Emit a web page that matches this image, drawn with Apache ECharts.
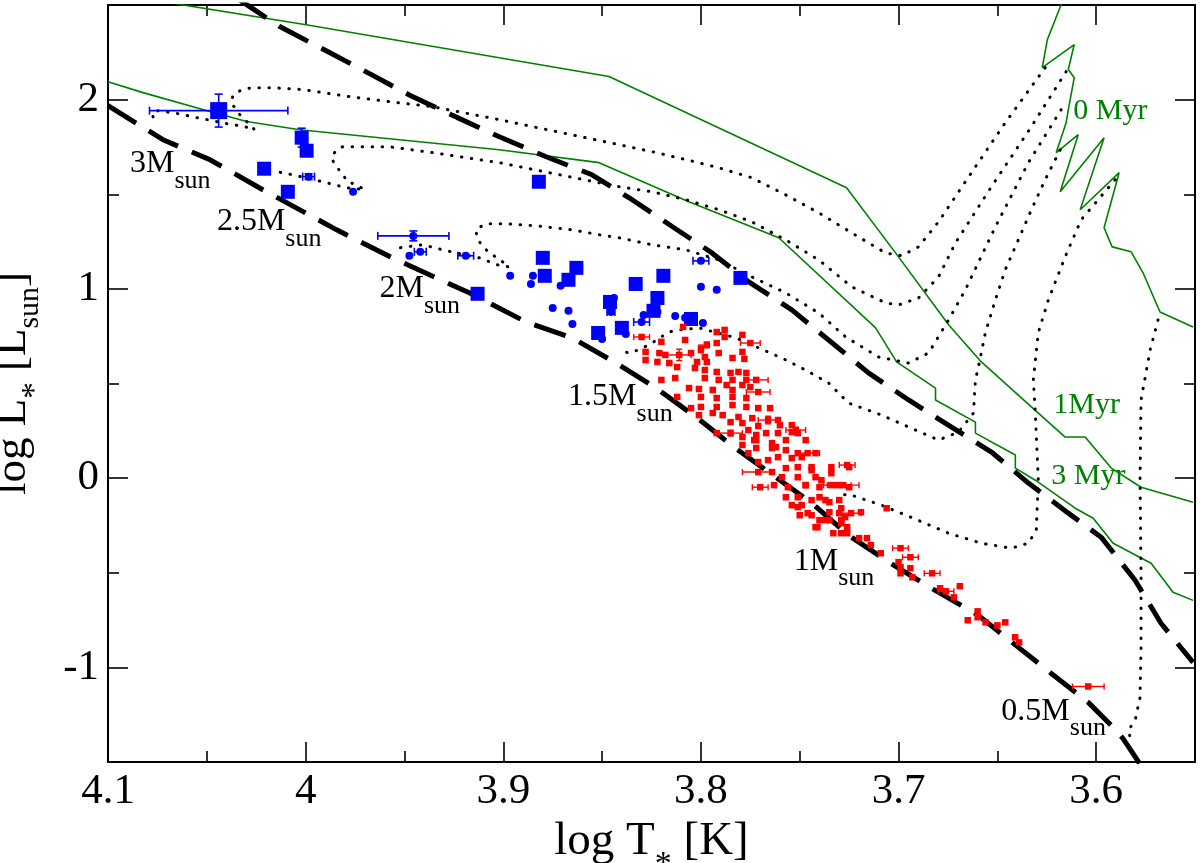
<!DOCTYPE html>
<html><head><meta charset="utf-8">
<script src="https://cdn.jsdelivr.net/npm/echarts@6/dist/echarts.min.js"></script>
<style>html,body{margin:0;padding:0;background:#fff}#c{width:1200px;height:863px}</style>
</head><body><div id="c"></div>
<script>
// ---------- axis ticks ----------
const xMajor = [3.6, 3.7, 3.8, 3.9, 4.0, 4.1];
const xMinor = [3.65, 3.75, 3.85, 3.95, 4.05];
const yMajor = [-1, 0, 1, 2];
const yMinor = [-0.5, 0.5, 1.5];

// ---------- isochrones (green) ----------
const iso1Myr = [[4.0788,2.529],[4.0636,2.503],[4.0005,2.397],[3.8465,2.122],[3.7263,1.534],[3.7,1.169],[3.6747,0.810],[3.6581,0.614],[3.6328,0.376],[3.6157,0.217],[3.6056,0.217],[3.5924,0.053],[3.5773,-0.048],[3.551,-0.127]];
const iso3Myr = [[4.1,2.095],[4.0823,2.037],[4.0485,1.937],[4.0298,1.884],[4.0030,1.841],[3.9020,1.735],[3.8515,1.667],[3.8061,1.460],[3.7606,1.270],[3.7116,0.794],[3.7010,0.614],[3.6813,0.476],[3.6813,0.413],[3.6611,0.296],[3.6611,0.238],[3.6409,0.122],[3.6409,0.053],[3.6308,-0.011],[3.6106,-0.159],[3.6015,-0.212],[3.5914,-0.344],[3.5722,-0.450],[3.5611,-0.603],[3.551,-0.646]];
const iso10Myr = [[3.6167,2.545],[3.6177,2.503],[3.6247,2.317],[3.6273,2.169],[3.6111,2.291],[3.6141,2.159],[3.6111,2.116],[3.6141,1.947],[3.6152,1.878],[3.6202,1.720],[3.6091,1.815],[3.6182,1.513],[3.5960,1.799],[3.6081,1.418],[3.5884,1.614],[3.5960,1.323],[3.5919,1.222],[3.5823,1.196],[3.5763,1.085],[3.5677,0.878],[3.551,0.799]];

// ---------- ZAMS and birthline (black dashed) ----------
const zams = [[4.1,1.968],[4.0722,1.788],[4.0485,1.683],[4.0217,1.524],[3.9843,1.312],[3.9561,1.164],[3.9172,0.979],[3.8884,0.825],[3.8652,0.741],[3.8439,0.614],[3.8227,0.476],[3.8025,0.323],[3.7833,0.164],[3.7621,0.005],[3.7439,-0.132],[3.7253,-0.302],[3.7040,-0.450],[3.6833,-0.582],[3.6596,-0.725],[3.6419,-0.873],[3.6227,-1.032],[3.6040,-1.185],[3.5914,-1.317],[3.5864,-1.376],[3.5773,-1.519]];
const birthline = [[4.0338,2.529],[4.0247,2.466],[4.0131,2.386],[3.9889,2.254],[3.9667,2.132],[3.9460,2.016],[3.9232,1.905],[3.9020,1.804],[3.8783,1.698],[3.8551,1.603],[3.8348,1.471],[3.8136,1.323],[3.7944,1.190],[3.7758,1.037],[3.7540,0.889],[3.7354,0.730],[3.7152,0.556],[3.6949,0.413],[3.6732,0.270],[3.6530,0.138],[3.6343,-0.026],[3.6141,-0.185],[3.5975,-0.312],[3.5803,-0.540],[3.5672,-0.767],[3.551,-0.974]];

// ---------- evolutionary tracks (black dotted) ----------
const track3 = [[3.6258,2.169],[3.6460,1.878],[3.6662,1.566],[3.6798,1.354],[3.6899,1.222],[3.6985,1.175],[3.7066,1.190],[3.7237,1.296],[3.7404,1.402],[3.7571,1.497],[3.7742,1.587],[3.7909,1.640],[3.8076,1.683],[3.8247,1.725],[3.8414,1.762],[3.9020,1.894],[3.9359,1.963],[3.9576,1.989],[3.9778,2.016],[4.0015,2.053],[4.0167,2.063],[4.0268,2.063],[4.0323,2.053],[4.0369,2.021],[4.0374,1.979],[4.0333,1.921],[4.0258,1.841],[4.0308,1.857],[4.0399,1.873],[4.0551,1.905],[4.0646,1.926],[4.0747,1.942],[4.0778,1.926],[4.0763,1.884]];
const track25 = [[3.6152,2.148],[3.6328,1.857],[3.6530,1.540],[3.6712,1.243],[3.6798,1.063],[3.6899,0.952],[3.7000,0.915],[3.7066,0.926],[3.7237,1.011],[3.7404,1.153],[3.7571,1.259],[3.7742,1.354],[3.7909,1.418],[3.8076,1.471],[3.8247,1.513],[3.8414,1.540],[3.8515,1.561],[3.9020,1.667],[3.9359,1.720],[3.9576,1.751],[3.9712,1.751],[3.9813,1.751],[3.9843,1.735],[3.9869,1.698],[3.9854,1.656],[3.9818,1.614],[3.9788,1.566],[3.9742,1.550],[3.9702,1.524],[3.9793,1.534],[3.9914,1.566],[4.0066,1.603],[4.0146,1.619]];
const track2 = [[3.6177,1.947],[3.6343,1.667],[3.6510,1.328],[3.6662,0.995],[3.6747,0.836],[3.6848,0.661],[3.6949,0.608],[3.7101,0.640],[3.7268,0.746],[3.7404,0.873],[3.7571,0.979],[3.7742,1.063],[3.7909,1.153],[3.8076,1.206],[3.8247,1.233],[3.8414,1.270],[3.8515,1.286],[3.8652,1.312],[3.8833,1.333],[3.8985,1.344],[3.9086,1.344],[3.9136,1.317],[3.9136,1.275],[3.9111,1.233],[3.9071,1.190],[3.9030,1.164],[3.8970,1.116],[3.9030,1.127],[3.9121,1.164],[3.9263,1.196],[3.9409,1.233],[3.9525,1.217]];
const track15 = [[3.6182,1.735],[3.6258,1.577],[3.6328,1.418],[3.6394,1.259],[3.6460,1.101],[3.6510,0.942],[3.6561,0.767],[3.6596,0.587],[3.6611,0.519],[3.6621,0.344],[3.6697,0.243],[3.6798,0.201],[3.6914,0.254],[3.7086,0.333],[3.7253,0.397],[3.7354,0.503],[3.7470,0.571],[3.7591,0.635],[3.7707,0.688],[3.7823,0.741],[3.8010,0.794],[3.8111,0.783],[3.8162,0.772],[3.8263,0.704],[3.8354,0.661],[3.8389,0.667]];
const track1 = [[3.5904,1.577],[3.5990,1.471],[3.6076,1.365],[3.6157,1.169],[3.6242,0.942],[3.6293,0.767],[3.6318,0.519],[3.6308,0.344],[3.6293,-0.011],[3.6303,-0.275],[3.6343,-0.344],[3.6429,-0.370],[3.6581,-0.344],[3.6747,-0.291],[3.6914,-0.217],[3.7086,-0.143],[3.7253,-0.085],[3.7313,-0.095]];
const track05 = [[3.5687,0.836],[3.5727,0.677],[3.5773,0.413],[3.5778,-0.011],[3.5773,-0.540],[3.5773,-0.894],[3.5778,-1.159],[3.5803,-1.280],[3.5838,-1.333],[3.5823,-1.386]];

// ---------- stars: [logT, logL, errT, errL] ----------
const blueSquares = [[4.044,1.942,0.035,0.087],[4.002,1.799,0,0.05],[3.9995,1.730,0,0],[4.021,1.635,0,0],[4.009,1.513,0,0],[3.882,1.566,0,0],[3.913,0.974,0,0],[3.880,1.164,0,0],[3.879,1.069,0,0],[3.867,1.048,0,0],[3.863,1.111,0,0],[3.852,0.767,0,0],[3.846,0.931,0,0],[3.840,0.794,0,0],[3.833,1.026,0,0],[3.819,1.069,0,0],[3.822,0.952,0,0],[3.824,0.884,0,0],[3.805,0.841,0,0],[3.780,1.058,0,0]];
const blueCircles = [[3.9985,1.593,0.003,0.015],[3.976,1.513,0,0],[3.9455,1.280,0.018,0.026],[3.9475,1.175,0,0],[3.942,1.196,0.003,0],[3.919,1.175,0.004,0],[3.8965,1.069,0,0],[3.885,1.069,0,0],[3.886,1.026,0,0],[3.871,1.016,0,0],[3.875,0.899,0,0],[3.867,0.884,0,0],[3.865,0.815,0,0],[3.850,0.735,0,0],[3.844,0.952,0,0],[3.8455,0.878,0.002,0.01],[3.838,0.762,0,0],[3.829,0.862,0,0],[3.830,0.825,0.004,0],[3.822,0.878,0,0],[3.813,0.857,0,0],[3.808,0.847,0,0],[3.799,0.820,0,0],[3.800,1.011,0,0],[3.792,0.995,0,0],[3.800,1.148,0.004,0]];
const redStars = [[3.830,0.746,0.004,0],[3.809,0.799,0,0],[3.808,0.730,0,0],[3.800,0.683,0,0.02],[3.792,0.772,0,0],[3.788,0.783,0,0],[3.788,0.746,0,0],[3.779,0.757,0,0],[3.775,0.714,0.005,0],[3.828,0.667,0,0],[3.821,0.661,0,0],[3.818,0.651,0,0],[3.811,0.651,0.006,0.03],[3.805,0.661,0,0],[3.798,0.640,0,0],[3.792,0.714,0,0],[3.797,0.704,0,0.015],[3.791,0.661,0,0],[3.784,0.635,0,0],[3.779,0.667,0,0],[3.820,0.720,0,0],[3.822,0.614,0,0],[3.828,0.624,0,0],[3.816,0.608,0,0],[3.802,0.614,0,0],[3.797,0.614,0,0],[3.778,0.630,0,0],[3.812,0.587,0,0],[3.803,0.582,0,0],[3.798,0.571,0,0],[3.792,0.561,0,0],[3.785,0.556,0,0],[3.781,0.561,0,0],[3.777,0.556,0,0],[3.820,0.519,0,0],[3.813,0.529,0,0],[3.798,0.529,0,0],[3.791,0.519,0,0],[3.784,0.519,0,0],[3.777,0.519,0,0],[3.772,0.519,0.006,0],[3.787,0.492,0,0],[3.779,0.492,0,0],[3.775,0.481,0,0],[3.806,0.476,0,0],[3.801,0.471,0,0],[3.794,0.466,0,0],[3.784,0.466,0,0],[3.771,0.455,0.006,0],[3.812,0.429,0,0],[3.800,0.429,0,0],[3.792,0.423,0,0],[3.784,0.429,0,0],[3.777,0.423,0,0],[3.800,0.376,0,0],[3.792,0.376,0,0],[3.784,0.386,0,0],[3.777,0.376,0,0],[3.771,0.370,0,0],[3.765,0.370,0,0],[3.805,0.370,0,0],[3.801,0.333,0,0],[3.794,0.344,0,0],[3.789,0.333,0,0],[3.781,0.323,0,0],[3.774,0.317,0,0],[3.766,0.307,0.005,0.02],[3.761,0.307,0,0],[3.785,0.296,0,0],[3.779,0.291,0,0],[3.771,0.275,0,0],[3.760,0.280,0,0],[3.754,0.280,0,0],[3.792,0.238,0,0],[3.785,0.238,0.006,0.015],[3.779,0.217,0,0],[3.772,0.228,0,0],[3.767,0.238,0,0],[3.761,0.238,0,0],[3.754,0.243,0,0],[3.751,0.238,0,0],[3.779,0.175,0,0],[3.772,0.201,0,0],[3.764,0.185,0,0],[3.757,0.201,0,0],[3.747,0.201,0,0],[3.772,0.159,0,0],[3.764,0.159,0,0],[3.757,0.148,0,0],[3.751,0.132,0,0],[3.746,0.132,0.006,0],[3.766,0.095,0,0],[3.761,0.111,0,0],[3.754,0.106,0,0],[3.749,0.111,0,0],[3.742,0.132,0,0],[3.771,0.032,0.008,0],[3.764,0.032,0,0],[3.757,0.053,0,0],[3.751,0.058,0,0],[3.744,0.058,0,0],[3.734,0.058,0,0],[3.759,0.005,0,0],[3.751,0.005,0,0],[3.742,0.005,0,0],[3.734,0.026,0,0],[3.726,0.069,0.004,0],[3.770,-0.048,0.004,0],[3.756,-0.048,0,0],[3.747,-0.037,0,0],[3.740,-0.048,0,0],[3.734,-0.037,0,0],[3.728,-0.037,0.008,0],[3.757,-0.101,0,0],[3.751,-0.101,0,0],[3.744,-0.116,0,0],[3.737,-0.116,0,0],[3.730,-0.116,0,0],[3.751,-0.153,0,0],[3.746,-0.185,0,0],[3.735,-0.180,0,0],[3.730,-0.185,0,0],[3.742,-0.259,0,0],[3.735,-0.222,0,0],[3.729,-0.238,0,0],[3.733,-0.291,0,0],[3.776,0.254,0,0],[3.752,0.254,0.005,0.015],[3.773,0.201,0,0],[3.762,0.164,0,0],[3.776,0.132,0,0],[3.771,0.085,0,0],[3.744,0.042,0,0],[3.763,-0.037,0,0],[3.747,-0.037,0,0],[3.739,-0.011,0,0],[3.731,-0.037,0.007,0],[3.740,-0.101,0,0],[3.735,-0.127,0,0],[3.754,-0.143,0,0],[3.749,-0.143,0,0],[3.729,-0.159,0,0],[3.727,-0.206,0,0],[3.724,-0.185,0.005,0],[3.719,-0.180,0,0],[3.750,-0.196,0,0],[3.744,-0.196,0,0],[3.737,-0.222,0,0],[3.729,-0.222,0,0],[3.726,-0.259,0,0],[3.740,-0.222,0,0],[3.741,-0.259,0,0],[3.729,-0.291,0,0],[3.726,-0.291,0,0],[3.720,-0.317,0,0],[3.716,-0.317,0,0],[3.714,-0.354,0,0],[3.709,-0.397,0,0],[3.706,-0.159,0,0],[3.725,0.058,0,0],[3.725,-0.048,0,0],[3.699,-0.370,0.004,0],[3.694,-0.418,0.004,0],[3.700,-0.444,0,0],[3.699,-0.471,0,0],[3.694,-0.476,0,0],[3.699,-0.503,0,0],[3.693,-0.524,0,0],[3.683,-0.503,0.004,0],[3.679,-0.582,0,0],[3.676,-0.598,0.004,0],[3.672,-0.630,0,0],[3.669,-0.571,0,0],[3.660,-0.704,0,0],[3.660,-0.735,0,0],[3.665,-0.751,0,0],[3.656,-0.762,0,0],[3.650,-0.778,0,0],[3.646,-0.762,0,0],[3.641,-0.841,0,0],[3.639,-0.868,0,0],[3.604,-1.101,0.008,0]];

// ---------- annotations: [logT, logL (cap-top-left), main, subscript] ----------
const massLabels = [[4.0889,1.709,'3M','sun'],[4.0449,1.402,'2.5M','sun'],[3.9626,1.048,'2M','sun'],[3.8672,0.476,'1.5M','sun'],[3.7530,-0.392,'1M','sun'],[3.6480,-1.185,'0.5M','sun']];
const ageLabels = [[3.6116,1.984,'0 Myr'],[3.6217,0.429,'1Myr'],[3.6227,0.053,'3 Myr']];

// ---------- chart ----------
const F = '"Liberation Serif", "Times New Roman", Times, serif';
const fmt = v => String(+Number(v).toFixed(2));
function xAx(pos, vals, len, showLabel, lineShow, extra) {
  return Object.assign({
    type:'value', min:3.55, max:4.1, inverse:true, position:pos,
    splitLine:{show:false},
    axisLine:{show:lineShow, onZero:false, lineStyle:{color:'#000', width:2}},
    axisTick:{show:true, inside:true, length:len, customValues:vals, lineStyle:{color:'#000', width:1.6}},
    axisLabel:{show:showLabel, customValues:vals, formatter:fmt, fontFamily:F, fontSize:43, color:'#000', margin:8}
  }, extra || {});
}
function yAx(pos, vals, len, showLabel, lineShow, extra) {
  return Object.assign({
    type:'value', min:-1.5, max:2.5, position:pos,
    splitLine:{show:false},
    axisLine:{show:lineShow, onZero:false, lineStyle:{color:'#000', width:2}},
    axisTick:{show:true, inside:true, length:len, customValues:vals, lineStyle:{color:'#000', width:1.6}},
    axisLabel:{show:showLabel, customValues:vals, formatter:fmt, fontFamily:F, fontSize:43, color:'#000', margin:9}
  }, extra || {});
}
const nameRichX = {
  a:{fontFamily:F, fontSize:47, color:'#000', lineHeight:50, verticalAlign:'top'},
  s:{fontFamily:F, fontSize:34, color:'#000', lineHeight:34, padding:[30,0,0,0], verticalAlign:'top'}
};
const nameRichY = {
  a:{fontFamily:F, fontSize:45, color:'#000', lineHeight:48, verticalAlign:'top'},
  s:{fontFamily:F, fontSize:33, color:'#000', lineHeight:33, padding:[29,0,0,0], verticalAlign:'top'},
  b:{fontFamily:F, fontSize:30, color:'#000', lineHeight:30, padding:[25,0,0,0], verticalAlign:'top'}
};

function errRender(color, cap, lw) {
  return function (params, api) {
    const x = api.value(0), y = api.value(1), ex = api.value(2), ey = api.value(3);
    const st = {stroke:color, lineWidth:lw};
    const ch = [];
    if (ex > 0) {
      const a = api.coord([x - ex, y]), b = api.coord([x + ex, y]);
      ch.push({type:'line', shape:{x1:a[0], y1:a[1], x2:b[0], y2:b[1]}, style:st});
      ch.push({type:'line', shape:{x1:a[0], y1:a[1]-cap, x2:a[0], y2:a[1]+cap}, style:st});
      ch.push({type:'line', shape:{x1:b[0], y1:b[1]-cap, x2:b[0], y2:b[1]+cap}, style:st});
    }
    if (ey > 0) {
      const a = api.coord([x, y - ey]), b = api.coord([x, y + ey]);
      ch.push({type:'line', shape:{x1:a[0], y1:a[1], x2:b[0], y2:b[1]}, style:st});
      ch.push({type:'line', shape:{x1:a[0]-cap, y1:a[1], x2:a[0]+cap, y2:a[1]}, style:st});
      ch.push({type:'line', shape:{x1:b[0]-cap, y1:b[1], x2:b[0]+cap, y2:b[1]}, style:st});
    }
    return {type:'group', children:ch};
  };
}

const green = {color:'#008000', width:1.6};
const dashed = {color:'#000', width:5, type:[33,15], cap:'butt'};
const dotted = {color:'#000', width:3, type:[0.5,9.5], cap:'round'};
function lineS(data, ls, z) {
  return {type:'line', data:data, xAxisIndex:0, yAxisIndex:0, showSymbol:false, symbol:'none', lineStyle:ls, z:z, silent:true, clip:true};
}

const chart = echarts.init(document.getElementById('c'), null, {renderer:'canvas'});
chart.setOption({
  animation:false,
  backgroundColor:'#fff',
  grid:{left:108, right:5, top:5, bottom:101, containLabel:false, outerBoundsMode:'none'},
  xAxis:[
    xAx('bottom', xMajor, 20, true, true, {name:'{a|log T}{s|*}{a| [K]}', nameLocation:'middle', nameGap:56, nameTextStyle:{fontFamily:F, fontSize:47, color:'#000', rich:nameRichX}}),
    xAx('bottom', xMinor, 11, false, false),
    xAx('top', xMajor, 20, false, true),
    xAx('top', xMinor, 11, false, false)
  ],
  yAxis:[
    yAx('left', yMajor, 20, true, true, {name:'{a|log L}{s|*}{a| [L}{b|sun}{a|]}', nameLocation:'middle', nameGap:57, nameTextStyle:{fontFamily:F, fontSize:45, color:'#000', rich:nameRichY}}),
    yAx('left', yMinor, 11, false, false),
    yAx('right', yMajor, 20, false, true),
    yAx('right', yMinor, 11, false, false)
  ],
  series:[
    lineS(iso1Myr, green, 1), lineS(iso3Myr, green, 1), lineS(iso10Myr, green, 1),
    lineS(track3, dotted, 2), lineS(track25, dotted, 2), lineS(track2, dotted, 2),
    lineS(track15, dotted, 2), lineS(track1, dotted, 2), lineS(track05, dotted, 2),
    lineS(zams, dashed, 3), lineS(birthline, dashed, 3),
    {type:'custom', data:blueSquares.concat(blueCircles), encode:{x:0, y:1}, renderItem:errRender('#0000ff', 4, 1.6), z:4, silent:true},
    {type:'scatter', data:blueSquares, encode:{x:0, y:1}, symbol:'rect', symbolSize:(v, p) => p.dataIndex === 0 ? 17 : 14, itemStyle:{color:'#0000ff', opacity:1}, z:5, silent:true},
    {type:'scatter', data:blueCircles, encode:{x:0, y:1}, symbol:'circle', symbolSize:8, itemStyle:{color:'#0000ff', opacity:1}, z:5, silent:true},
    {type:'custom', data:redStars, encode:{x:0, y:1}, renderItem:errRender('#ff0000', 3, 1.4), z:6, silent:true},
    {type:'scatter', data:redStars, encode:{x:0, y:1}, symbol:'rect', symbolSize:6.5, itemStyle:{color:'#ff0000', opacity:1}, z:7, silent:true},
    {type:'custom', data:massLabels.map(d => [d[0], d[1]]), encode:{x:0, y:1}, z:8, silent:true,
      renderItem:function (params, api) {
        const d = massLabels[params.dataIndex];
        const p = api.coord([api.value(0), api.value(1)]);
        return {type:'text', x:p[0], y:p[1] - 7, style:{
          text:'{m|' + d[2] + '}{s|' + d[3] + '}', align:'left', verticalAlign:'top', fill:'#000',
          rich:{m:{fontFamily:F, fontSize:32, lineHeight:36, fill:'#000', verticalAlign:'top'},
                s:{fontFamily:F, fontSize:26, lineHeight:26, fill:'#000', padding:[20,0,0,0], verticalAlign:'top'}}}};
      }},
    {type:'custom', data:ageLabels.map(d => [d[0], d[1]]), encode:{x:0, y:1}, z:8, silent:true,
      renderItem:function (params, api) {
        const d = ageLabels[params.dataIndex];
        const p = api.coord([api.value(0), api.value(1)]);
        return {type:'text', x:p[0], y:p[1] - 7, style:{text:d[2], font:'30px ' + F, fill:'#008000', align:'left', verticalAlign:'top'}};
      }}
  ]
});
</script></body></html>
